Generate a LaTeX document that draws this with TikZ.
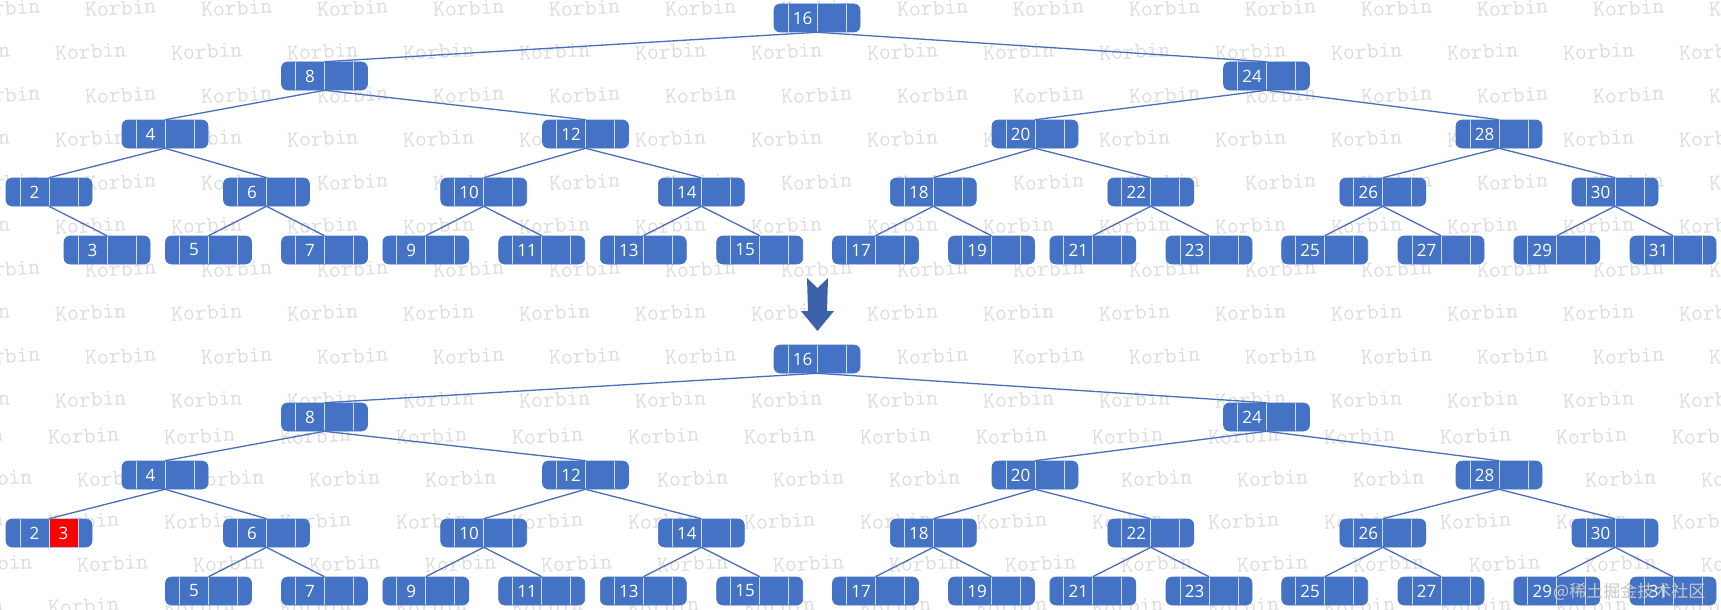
\documentclass[tikz,border=0pt]{standalone}
\usepackage{fontspec}
\newfontfamily\numfont{Open Sans}
\newfontfamily\cjkfont{Noto Sans CJK SC}
\definecolor{nodeblue}{HTML}{4472C4}
\definecolor{edgeblue}{HTML}{4A6FB8}
\definecolor{divcol}{HTML}{D3DCEF}
\definecolor{wmgray}{HTML}{DDDDDD}
\definecolor{arrowblue}{HTML}{3C63AA}
\definecolor{cellred}{HTML}{FF0000}
\begin{document}
\begin{tikzpicture}[x=1pt,y=-1pt,
  bnode/.style={rounded corners=6pt, fill=nodeblue, draw=nodeblue, line width=0.6pt,
    minimum width=86pt, minimum height=28pt, inner sep=0pt,
    path picture={\foreach \dx in {-29,0,29}{\draw[divcol,line width=0.9pt]
      ([xshift=\dx pt]path picture bounding box.north) -- ([xshift=\dx pt]path picture bounding box.south);}}},
  keytext/.style={text=white, font=\numfont\fontsize{17}{17}\selectfont, inner sep=0pt},
  conn/.style={draw=edgeblue, line width=1.3pt},
  wm/.style={text=wmgray, font=\ttfamily\fontsize{23}{23}\selectfont, anchor=west, rotate=3, inner sep=0pt},
]
\useasboundingbox (0,0) rectangle (1721,610);
\fill[white] (0,0) rectangle (1721,610);

% watermark
\begin{scope}
\clip (0,0) rectangle (1721,610);
\foreach \k in {0,...,9}{
  \pgfmathsetmacro\yy{10+43.5*\k}
  \pgfmathsetmacro\xx{isodd(\k) ? -61 : -31}
  \foreach \j in {0,...,15}{
    \node[wm] (wmt-\k-\j) at (\xx+116*\j,\yy) {Korbin};
  }
}
\foreach \k in {0,...,4}{
  \pgfmathsetmacro\yy{438+42.5*\k}
  \pgfmathsetmacro\xx{isodd(\k) ? -39 : -68}
  \foreach \j in {0,...,15}{
    \node[wm] (wmb-\k-\j) at (\xx+116*\j,\yy) {Korbin};
  }
}
\end{scope}

% nodes of both trees
\foreach \n/\x/\y in {16/817/18, 8/324.5/76, 24/1266.5/76,
  4/165/134, 12/585.5/134, 20/1035/134, 28/1499/134,
  2/49/192, 6/266.5/192, 10/483.7/192, 14/701.3/192, 18/933.3/192, 22/1150.8/192, 26/1382.8/192, 30/1615/192,
  5/208.5/250, 7/324.5/250, 9/425.8/250, 11/541.7/250, 13/643.3/250, 15/759.7/250, 17/875.5/250,
  19/991.5/250, 21/1092.8/250, 23/1209/250, 25/1324.7/250, 27/1441/250, 29/1556.8/250, 31/1673/250}{
  \node[bnode] (t\n) at (\x,\y) {};
  \node[keytext] (t\n k) at ([xshift=-14.5pt]t\n.center) {\n};
  \node[bnode] (b\n) at (\x,\y+341) {};
  \node[keytext] (b\n k) at ([xshift=-14.5pt]b\n.center) {\n};
}
\node[bnode] (t3) at (107,250) {};
\node[keytext] (t3k) at ([xshift=-14.5pt]t3.center) {3};

% red cell in the lower tree
\fill[cellred] (b2.north) rectangle ([xshift=29pt]b2.south);
\draw[divcol, line width=0.9pt] (b2.north) -- (b2.south);
\draw[divcol, line width=0.9pt] ([xshift=29pt]b2.north) -- ([xshift=29pt]b2.south);
\node[keytext] (b2r) at ([xshift=14.5pt]b2.center) {3};

% connectors
\foreach \p/\c in {16/8, 16/24, 8/4, 8/12, 24/20, 24/28, 4/2, 4/6, 12/10, 12/14,
  20/18, 20/22, 28/26, 28/30, 6/5, 6/7, 10/9, 10/11, 14/13, 14/15, 18/17, 18/19,
  22/21, 22/23, 26/25, 26/27, 30/29, 30/31}{
  \draw[conn] (t\p.south) -- (t\c.north);
  \draw[conn] (b\p.south) -- (b\c.north);
}
\draw[conn] (t2.south) -- (t3.north);

% down arrow between the trees
\fill[arrowblue] (807,278) -- (817.5,288) -- (828,278) -- (827,311) -- (834,311)
  -- (817.5,331) -- (801,311) -- (808,311) -- cycle;

% platform watermark
\node[anchor=west, text=black!22, font=\cjkfont\fontsize{17}{17}\selectfont, inner sep=0pt]
  (jj) at (1553,592) {@稀土掘金技术社区};
\end{tikzpicture}
\end{document}
